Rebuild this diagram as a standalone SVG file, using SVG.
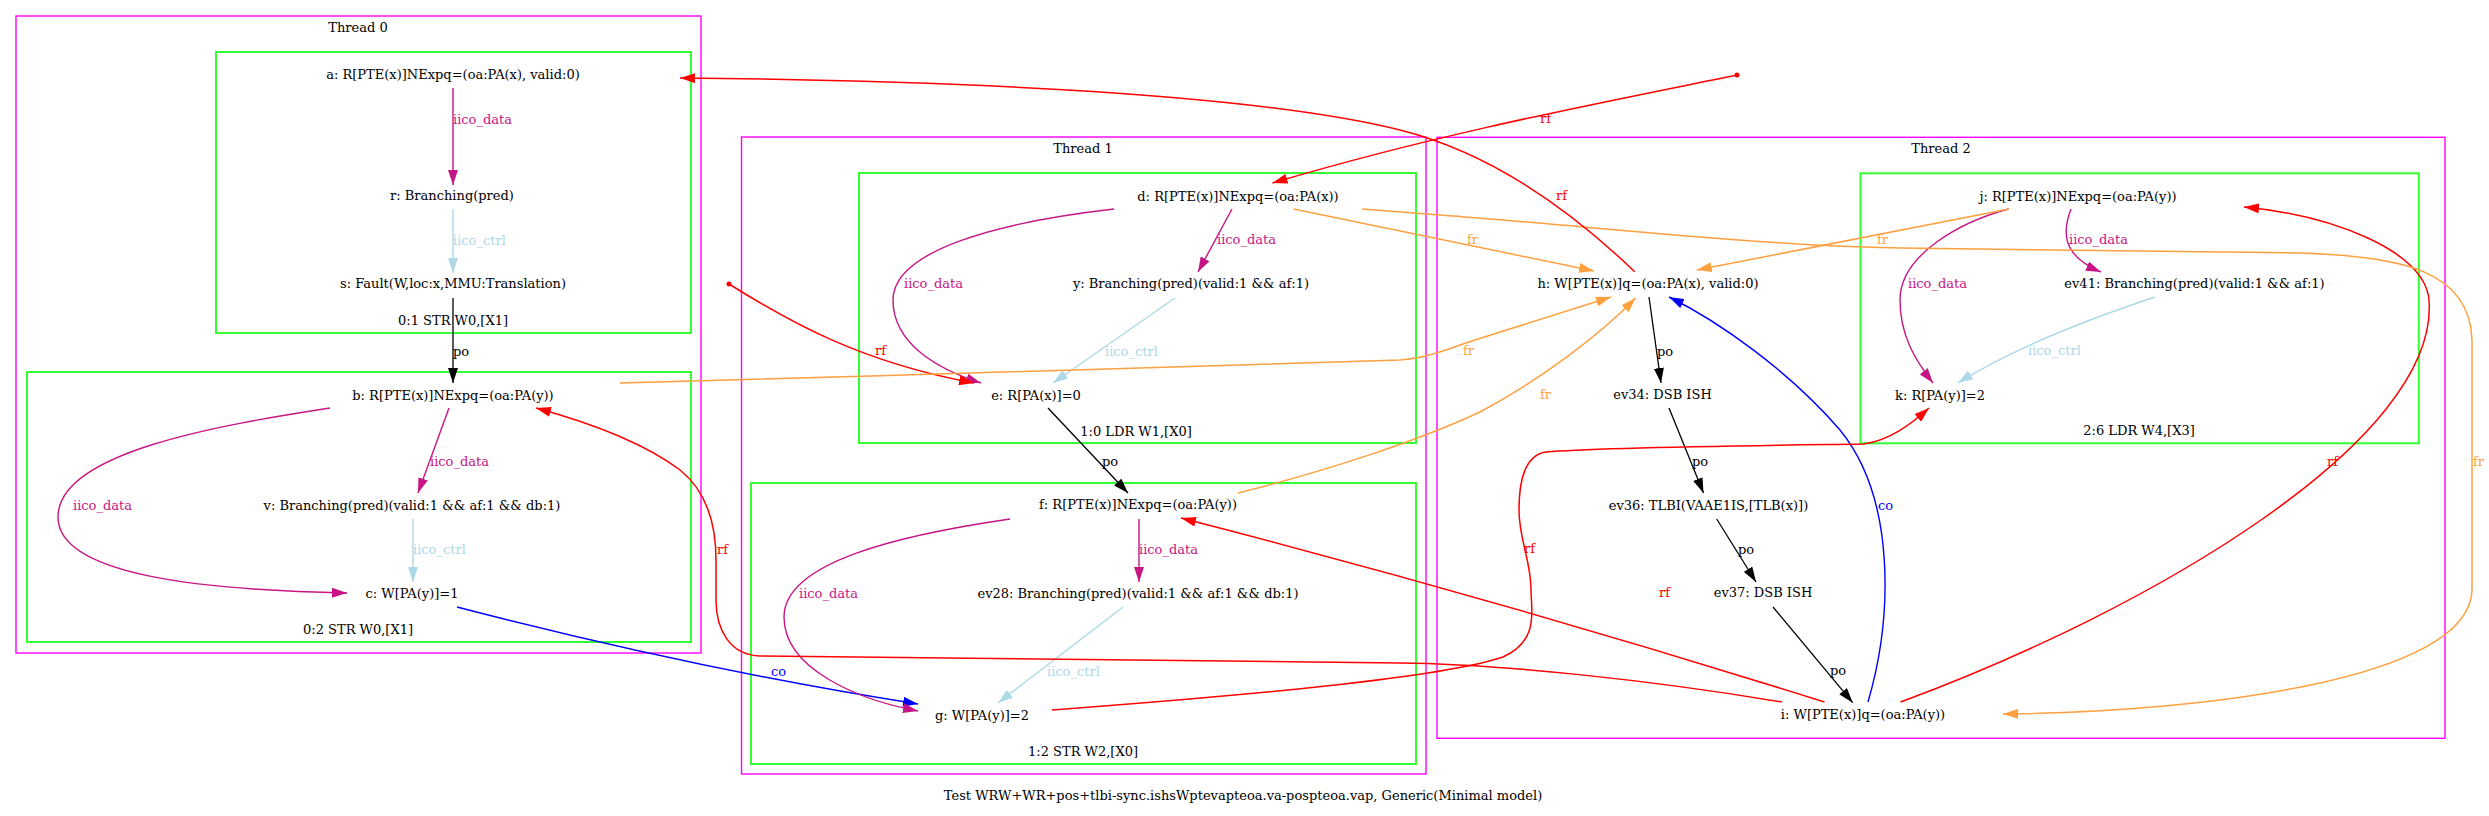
<svg xmlns="http://www.w3.org/2000/svg" width="2489" height="816" viewBox="0 0 2489 816">
<style>
text{font-family:"DejaVu Serif","Liberation Serif",serif;font-size:13px;}
.n{text-anchor:middle;fill:#000;}
.cl{fill:none;stroke:#ff00ff;stroke-width:1.4;}
.gr{fill:none;stroke:#33ff33;stroke-width:2;}
.e{fill:none;}
.rf{stroke:#ff0000;stroke-width:1.5;}
.fr{stroke:#ffa040;stroke-width:1.5;}
.po{stroke:#000;stroke-width:1.3;}
.co{stroke:#0000ff;stroke-width:1.4;}
.id{stroke:#c71585;stroke-width:1.4;}
.ic{stroke:#add8e6;stroke-width:1.4;}
.lrf{fill:#ff0000;}
.lfr{fill:#ffa040;}
.lpo{fill:#000;}
.lco{fill:#0000ff;}
.lid{fill:#c71585;}
.lic{fill:#add8e6;}
</style>
<defs>
<marker id="ared" markerUnits="userSpaceOnUse" markerWidth="15" markerHeight="10" viewBox="0 0 15 10" refX="15" refY="5" orient="auto"><path d="M0,0 L15,5 L0,10 z" fill="#ff0000"/></marker>
<marker id="aor" markerUnits="userSpaceOnUse" markerWidth="15" markerHeight="10" viewBox="0 0 15 10" refX="15" refY="5" orient="auto"><path d="M0,0 L15,5 L0,10 z" fill="#ffa040"/></marker>
<marker id="ablk" markerUnits="userSpaceOnUse" markerWidth="15" markerHeight="10" viewBox="0 0 15 10" refX="15" refY="5" orient="auto"><path d="M0,0 L15,5 L0,10 z" fill="#000"/></marker>
<marker id="ablu" markerUnits="userSpaceOnUse" markerWidth="15" markerHeight="10" viewBox="0 0 15 10" refX="15" refY="5" orient="auto"><path d="M0,0 L15,5 L0,10 z" fill="#0000ff"/></marker>
<marker id="aid" markerUnits="userSpaceOnUse" markerWidth="15" markerHeight="10" viewBox="0 0 15 10" refX="15" refY="5" orient="auto"><path d="M0,0 L15,5 L0,10 z" fill="#c71585"/></marker>
<marker id="aic" markerUnits="userSpaceOnUse" markerWidth="15" markerHeight="10" viewBox="0 0 15 10" refX="15" refY="5" orient="auto"><path d="M0,0 L15,5 L0,10 z" fill="#add8e6"/></marker>
</defs>
<rect width="2489" height="816" fill="#fff"/>

<g id="thread0">
<rect class="cl" x="16" y="16" width="685" height="637"/>
<text class="n" x="358" y="31.5">Thread 0</text>
<g id="instr0_1">
<rect class="gr" x="216" y="52" width="475" height="281"/>
<text class="n" x="453" y="324.5">0:1 STR W0,[X1]</text>
</g>
<g id="instr0_2">
<rect class="gr" x="27" y="372" width="664" height="270"/>
<text class="n" x="358" y="633.5">0:2 STR W0,[X1]</text>
</g>
</g>
<g id="thread1">
<rect class="cl" x="741.5" y="137" width="684.5" height="637"/>
<text class="n" x="1083" y="152.5">Thread 1</text>
<g id="instr1_0">
<rect class="gr" x="859" y="173" width="557" height="270"/>
<text class="n" x="1136" y="435.5">1:0 LDR W1,[X0]</text>
</g>
<g id="instr1_2">
<rect class="gr" x="751" y="483" width="665" height="281"/>
<text class="n" x="1083" y="755.5">1:2 STR W2,[X0]</text>
</g>
</g>
<g id="thread2">
<rect class="cl" x="1437" y="137.3" width="1008" height="601"/>
<text class="n" x="1941" y="152.5">Thread 2</text>
<g id="instr2_6">
<rect class="gr" x="1860.5" y="173.3" width="558.3" height="270"/>
<text class="n" x="2139" y="435">2:6 LDR W4,[X3]</text>
</g>
</g>

<g id="node-a"><text class="n" x="453" y="79">a: R[PTE(x)]NExpq=(oa:PA(x), valid:0)</text></g>
<g id="node-r"><text class="n" x="452" y="200">r: Branching(pred)</text></g>
<g id="node-s"><text class="n" x="453" y="288">s: Fault(W,loc:x,MMU:Translation)</text></g>
<g id="node-b"><text class="n" x="453" y="399.5">b: R[PTE(x)]NExpq=(oa:PA(y))</text></g>
<g id="node-v"><text class="n" x="412" y="509.5">v: Branching(pred)(valid:1 &amp;&amp; af:1 &amp;&amp; db:1)</text></g>
<g id="node-c"><text class="n" x="412" y="597.5">c: W[PA(y)]=1</text></g>
<g id="node-d"><text class="n" x="1238" y="200.5">d: R[PTE(x)]NExpq=(oa:PA(x))</text></g>
<g id="node-y"><text class="n" x="1191" y="287.5">y: Branching(pred)(valid:1 &amp;&amp; af:1)</text></g>
<g id="node-e"><text class="n" x="1036" y="399.5">e: R[PA(x)]=0</text></g>
<g id="node-f"><text class="n" x="1138" y="508.5">f: R[PTE(x)]NExpq=(oa:PA(y))</text></g>
<g id="node-ev28"><text class="n" x="1138" y="597.5">ev28: Branching(pred)(valid:1 &amp;&amp; af:1 &amp;&amp; db:1)</text></g>
<g id="node-g"><text class="n" x="982" y="719.5">g: W[PA(y)]=2</text></g>
<g id="node-h"><text class="n" x="1648" y="287.5">h: W[PTE(x)]q=(oa:PA(x), valid:0)</text></g>
<g id="node-ev34"><text class="n" x="1662.5" y="399">ev34: DSB ISH</text></g>
<g id="node-ev36"><text class="n" x="1708.5" y="509.5">ev36: TLBI(VAAE1IS,[TLB(x)])</text></g>
<g id="node-ev37"><text class="n" x="1763" y="597">ev37: DSB ISH</text></g>
<g id="node-i"><text class="n" x="1863" y="718.5">i: W[PTE(x)]q=(oa:PA(y))</text></g>
<g id="node-j"><text class="n" x="2078" y="200.5">j: R[PTE(x)]NExpq=(oa:PA(y))</text></g>
<g id="node-ev41"><text class="n" x="2194.5" y="287.5">ev41: Branching(pred)(valid:1 &amp;&amp; af:1)</text></g>
<g id="node-k"><text class="n" x="1940" y="399.5">k: R[PA(y)]=2</text></g>
<g id="init-x"><circle cx="729" cy="284" r="2.5" fill="#ff0000"/></g>
<g id="init-d"><circle cx="1737" cy="75" r="2.5" fill="#ff0000"/></g>

<g id="connectors">
<path class="e id" d="M453,88 L453,185" marker-end="url(#aid)"/>
<text class="lid" x="453" y="123.5">iico_data</text>
<path class="e ic" d="M453,209 L453,273" marker-end="url(#aic)"/>
<text class="lic" x="453" y="244.5">iico_ctrl</text>
<path class="e po" d="M453,298 L453,383" marker-end="url(#ablk)"/>
<text class="lpo" x="453" y="355.5">po</text>
<path class="e id" d="M449,408 L418,493" marker-end="url(#aid)"/>
<text class="lid" x="430" y="465.5">iico_data</text>
<path class="e ic" d="M413,519 L413,582" marker-end="url(#aic)"/>
<text class="lic" x="413" y="553.5">iico_ctrl</text>
<path class="e id" d="M330,408 C220,425 58,452 58,517 C58,575 200,590 347,593" marker-end="url(#aid)"/>
<text class="lid" x="73" y="509.5">iico_data</text>
<path class="e co" d="M457,607 Q700,670 918,704" marker-end="url(#ablu)"/>
<text class="lco" x="771" y="675.5">co</text>

<path class="e id" d="M1232,209 L1198,272" marker-end="url(#aid)"/>
<text class="lid" x="1217" y="243.5">iico_data</text>
<path class="e ic" d="M1175,298 L1053,383" marker-end="url(#aic)"/>
<text class="lic" x="1105" y="355.5">iico_ctrl</text>
<path class="e id" d="M1114,209 C1000,222 893,250 893,300 C893,345 940,370 981,383" marker-end="url(#aid)"/>
<text class="lid" x="904" y="287.5">iico_data</text>
<path class="e rf" d="M729,284 C790,322 860,362 974,383" marker-end="url(#ared)"/>
<text class="lrf" x="875" y="354.5">rf</text>
<path class="e po" d="M1048,408 L1128,493" marker-end="url(#ablk)"/>
<text class="lpo" x="1102" y="465.5">po</text>
<path class="e id" d="M1139,519 L1139,582" marker-end="url(#aid)"/>
<text class="lid" x="1139" y="553.5">iico_data</text>
<path class="e ic" d="M1123,607 L998,703" marker-end="url(#aic)"/>
<text class="lic" x="1047" y="675.5">iico_ctrl</text>
<path class="e id" d="M1010,519 C900,535 784,562 784,617 C784,670 860,700 918,711" marker-end="url(#aid)"/>
<text class="lid" x="799" y="597.5">iico_data</text>

<path class="e po" d="M1649,297 L1661,383" marker-end="url(#ablk)"/>
<text class="lpo" x="1657" y="355.5">po</text>
<path class="e po" d="M1669,408 L1703.5,493" marker-end="url(#ablk)"/>
<text class="lpo" x="1692" y="465.5">po</text>
<path class="e po" d="M1716.7,519 L1756,582" marker-end="url(#ablk)"/>
<text class="lpo" x="1738" y="553.5">po</text>
<path class="e po" d="M1773,607 L1852.7,702.7" marker-end="url(#ablk)"/>
<text class="lpo" x="1830" y="675">po</text>
<path class="e co" d="M1868,702 C1892,620 1897,500 1840,430 C1790,372 1720,322 1669,297" marker-end="url(#ablu)"/>
<text class="lco" x="1878" y="509.5">co</text>

<path class="e id" d="M2071,209 C2063,230 2060,255 2101,272" marker-end="url(#aid)"/>
<text class="lid" x="2069" y="243.5">iico_data</text>
<path class="e id" d="M2008.6,209 C1960,222 1900,255 1900,300 C1900,335 1915,360 1933,383" marker-end="url(#aid)"/>
<text class="lid" x="1908" y="287.5">iico_data</text>
<path class="e ic" d="M2155,297 C2080,322 2010,350 1958,383" marker-end="url(#aic)"/>
<text class="lic" x="2028" y="355">iico_ctrl</text>

<path class="e rf" d="M1900.6,702 C2150,610 2440,440 2429,300 C2425,250 2330,215 2244,207" marker-end="url(#ared)"/>
<text class="lrf" x="2327" y="465.5">rf</text>
<path class="e fr" d="M1362,209 L1440,215 C1600,227 1750,245 1900,248 L2300,253 C2400,256 2470,270 2472,340 L2472,590 C2470,680 2200,712 2003,714" marker-end="url(#aor)"/>
<text class="lfr" x="2473" y="465.5">fr</text>
<path class="e fr" d="M1293.7,209 L1594,271" marker-end="url(#aor)"/>
<text class="lfr" x="1467" y="243.5">fr</text>
<path class="e fr" d="M2009,209 L1696.8,270" marker-end="url(#aor)"/>
<text class="lfr" x="1877" y="243.5">fr</text>
<path class="e fr" d="M620,383 C900,375 1300,365 1400,360 C1430,358 1455,346 1475,340 L1611,297" marker-end="url(#aor)"/>
<text class="lfr" x="1463" y="355">fr</text>
<path class="e fr" d="M1238,493 C1330,470 1420,440 1480,412 C1540,380 1600,335 1635.5,298" marker-end="url(#aor)"/>
<text class="lfr" x="1540" y="399">fr</text>
<path class="e rf" d="M1634.7,271.7 C1560,200 1480,150 1400,130 C1240,90 900,80 680,78" marker-end="url(#ared)"/>
<text class="lrf" x="1556" y="200">rf</text>
<path class="e rf" d="M1737,75 C1600,103 1440,133 1272.5,183" marker-end="url(#ared)"/>
<text class="lrf" x="1540" y="122.5">rf</text>
<path class="e rf" d="M1052,710 C1250,695 1440,678 1503,657 C1540,640 1531,610 1531,590 C1531,560 1519,540 1519,510 C1519,480 1525,455 1546,452 C1600,447 1800,445 1864,444 C1890,440 1910,425 1929,408" marker-end="url(#ared)"/>
<text class="lrf" x="1524" y="552.5">rf</text>
<path class="e rf" d="M1782,702 C1650,680 1500,664 1400,663 L760,656 C730,655 716,630 716,600 L716,560 C716,520 705,490 680,470 C640,440 580,420 536,408" marker-end="url(#ared)"/>
<text class="lrf" x="717" y="553.5">rf</text>
<path class="e rf" d="M1824.5,702 Q1500,600 1181,518" marker-end="url(#ared)"/>
<text class="lrf" x="1659" y="596.5">rf</text>
</g>

<g id="caption"><text class="n" x="1243" y="799.5">Test WRW+WR+pos+tlbi-sync.ishsWptevapteoa.va-pospteoa.vap, Generic(Minimal model)</text></g>
</svg>
